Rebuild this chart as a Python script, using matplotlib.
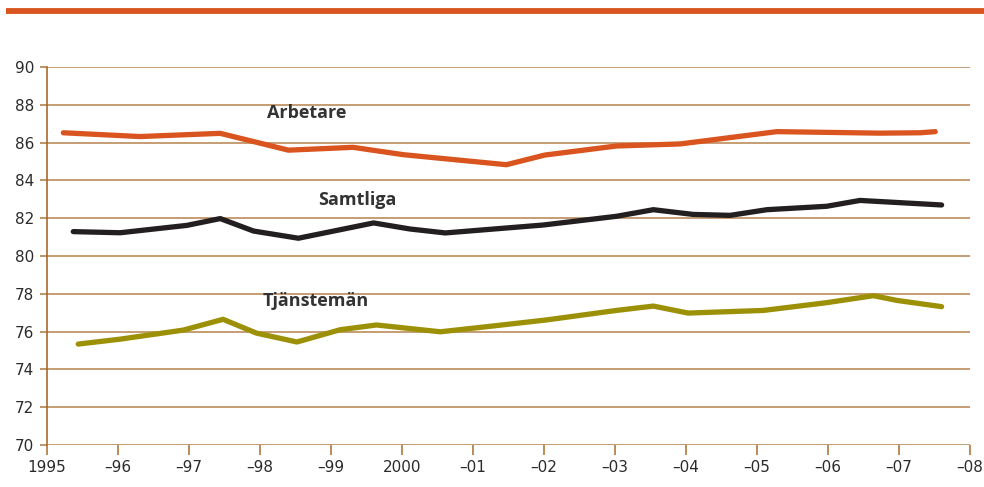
import matplotlib.pyplot as plt
from matplotlib.lines import Line2D

# Series (year, value)
arb_x = [1995.23, 1996.31, 1997.44, 1998.40, 1999.31, 2000.02, 2001.47, 2002.01,
         2003.02, 2003.92, 2005.28, 2006.73, 2007.30, 2007.51]
arb_y = [86.52, 86.32, 86.49, 85.60, 85.75, 85.36, 84.83, 85.34,
         85.82, 85.93, 86.58, 86.50, 86.52, 86.58]

sam_x = [1995.37, 1996.03, 1996.97, 1997.44, 1997.91, 1998.54, 1999.60, 2000.11,
         2000.61, 2001.99, 2003.02, 2003.54, 2004.10, 2004.62, 2005.14, 2005.98,
         2006.45, 2007.60]
sam_y = [81.29, 81.23, 81.62, 81.98, 81.32, 80.94, 81.75, 81.43,
         81.22, 81.64, 82.10, 82.45, 82.20, 82.15, 82.45, 82.63,
         82.94, 82.70]

tja_x = [1995.44, 1996.03, 1996.92, 1997.48, 1997.95, 1998.52, 1999.13, 1999.64,
         2000.54, 2001.29, 2002.04, 2003.02, 2003.54, 2004.03, 2005.09, 2005.98,
         2006.64, 2006.97, 2007.60]
tja_y = [75.34, 75.60, 76.08, 76.65, 75.92, 75.45, 76.10, 76.35,
         75.99, 76.30, 76.62, 77.12, 77.35, 76.98, 77.12, 77.53,
         77.90, 77.65, 77.32]

years = list(range(1995, 2009))
year_labels = ["1995", "\u201396", "\u201397", "\u201398", "\u201399", "2000", "\u201301",
               "\u201302", "\u201303", "\u201304", "\u201305", "\u201306", "\u201307", "\u201308"]
yticks = list(range(70, 91, 2))

orange = "#d9541e"
black = "#231f20"
olive = "#9c9106"
grid_c = "#b5824e"
text_c = "#2b2b2b"

fig = plt.figure(figsize=(9.84, 4.87), dpi=100)
ax = fig.add_axes([47 / 984, 1 - 445 / 487, 923 / 984, 378 / 487])

for v in yticks:
    ax.axhline(v, color=grid_c, lw=1.1, zorder=1)

ax.plot(arb_x, arb_y, color=orange, lw=3.8, solid_capstyle="round", zorder=3)
ax.plot(sam_x, sam_y, color=black, lw=3.8, solid_capstyle="round", zorder=3)
ax.plot(tja_x, tja_y, color=olive, lw=3.8, solid_capstyle="round", zorder=3)

lab_kw = dict(fontsize=13, fontweight="bold", color="#333333", ha="center", va="center",
              family="Open Sans")
ax.text(1998.66, 87.55, "Arbetare", **lab_kw)
ax.text(1999.37, 82.95, "Samtliga", **lab_kw)
ax.text(1998.79, 77.62, "Tjänstemän", **lab_kw)

ax.set_xlim(1995, 2008)
ax.set_ylim(70, 90)
ax.set_xticks(years)
ax.set_xticklabels(year_labels)
ax.set_yticks(yticks)

for s in ["top", "right", "bottom"]:
    ax.spines[s].set_visible(False)
ax.spines["left"].set_color("#a86a2a")
ax.spines["left"].set_linewidth(1.2)

ax.tick_params(axis="x", colors=grid_c, length=7, width=1.3, labelsize=11,
               labelcolor=text_c, pad=4)
ax.tick_params(axis="y", colors=grid_c, length=5, width=1.2, labelsize=11,
               labelcolor=text_c, pad=4)

# orange rule at the top of the figure
fig.add_artist(Line2D([6 / 984, 1], [1 - 11.3 / 487] * 2, color=orange, lw=4.2,
                      solid_capstyle="butt"))

fig.savefig("out.png", dpi=100)
